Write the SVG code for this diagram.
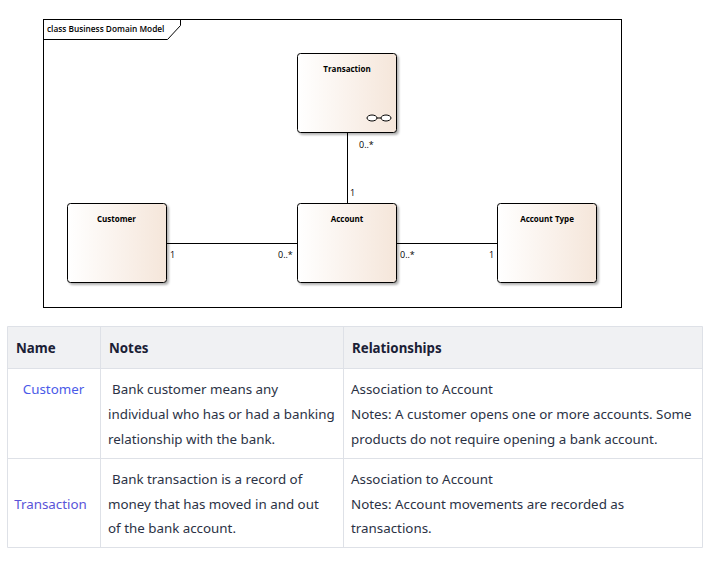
<svg xmlns="http://www.w3.org/2000/svg" width="714" height="567" viewBox="0 0 714 567">
<style>
.n{font:bold 8px "Open Sans","Liberation Sans",sans-serif;fill:#000;text-anchor:middle}
.m{font:9px "Open Sans","Liberation Sans",sans-serif;fill:#000}
.f{font:600 8.300px "Open Sans","Liberation Sans",sans-serif;fill:#000}
.box{fill:url(#g);stroke:#000;stroke-width:1}
.c{stroke:#000;stroke-width:1;fill:none}
.t{font:13.350px "Noto Sans","Open Sans",sans-serif;fill:#2b3245}
.h{font:bold 13.300px "Noto Sans","Open Sans",sans-serif;fill:#1a2035}
.l{font:13.350px "Noto Sans","Open Sans",sans-serif;fill:#4a5ae8;text-anchor:middle}
.g{stroke:#dee1e7;stroke-width:1;fill:none}
</style>
<defs>
<linearGradient id="g" x1="0" x2="1" y1="0" y2="0"><stop offset="0" stop-color="#fff"/><stop offset="1" stop-color="#f5e6da"/></linearGradient>
<filter id="s" x="-10%" y="-10%" width="125%" height="125%"><feDropShadow dx="2" dy="2" stdDeviation="1" flood-color="#000" flood-opacity=".3"/></filter>
</defs>
<rect width="714" height="567" fill="#fff"/>
<g id="frame">
<rect class="c" x="43.5" y="19.5" width="578" height="288"/>
<path class="c" d="M43.5 39.5H167.5L180.5 25.5V19.5"/>
<text x="47" y="32" class="f">class Business Domain Model</text>
</g>
<g id="connectors">
<path class="c" d="M347.5 133V203"/>
<path class="c" d="M167 243.5H297"/>
<path class="c" d="M397 243.5H497"/>
<text class="m" x="359" y="148">0..*</text>
<text class="m" x="350" y="196">1</text>
<text class="m" x="170" y="258">1</text>
<text class="m" x="278" y="258">0..*</text>
<text class="m" x="400" y="258">0..*</text>
<text class="m" x="489" y="258">1</text>
</g>
<g id="transaction">
<rect class="box" filter="url(#s)" x="297.5" y="53.5" width="99" height="79" rx="3"/>
<text class="n" x="347" y="72">Transaction</text>
<ellipse cx="372" cy="118" rx="5" ry="3" fill="#fff" stroke="#000"/>
<ellipse cx="386" cy="118" rx="5" ry="3" fill="#fff" stroke="#000"/>
<path class="c" d="M377 118H381"/>
</g>
<g id="customer">
<rect class="box" filter="url(#s)" x="67.5" y="203.500" width="99" height="79" rx="3"/>
<text class="n" x="116.500" y="222">Customer</text>
</g>
<g id="account">
<rect class="box" filter="url(#s)" x="297.5" y="203.500" width="99" height="79" rx="3"/>
<text class="n" x="347" y="222">Account</text>
</g>
<g id="account-type">
<rect class="box" filter="url(#s)" x="497.5" y="203.500" width="99" height="79" rx="3"/>
<text class="n" x="547" y="222">Account Type</text>
</g>
<g id="table">
<rect x="7.5" y="326.5" width="695" height="42" fill="#f0f1f3"/>
<path class="g" d="M7.500 326.500H702.500V547.500H7.500ZM7.500 368.500H702.500M7.500 458.500H702.500M100.500 326.500V547.500M343.500 326.500V547.500"/>
<text class="h" x="16" y="353">Name</text>
<text class="h" x="109" y="353">Notes</text>
<text class="h" x="352" y="353">Relationships</text>
<text class="l" x="53.500" y="394">Customer</text>
<text class="t" x="112" y="394">Bank customer means any</text>
<text class="t" x="108" y="419">individual who has or had a banking</text>
<text class="t" x="108" y="444">relationship with the bank.</text>
<text class="t" x="351" y="394">Association to Account</text>
<text class="t" x="351" y="419">Notes: A customer opens one or more accounts. Some</text>
<text class="t" x="351" y="444">products do not require opening a bank account.</text>
<text class="l" x="50.500" y="509" style="fill:#5a54d8">Transaction</text>
<text class="t" x="112" y="484">Bank transaction is a record of</text>
<text class="t" x="108" y="509">money that has moved in and out</text>
<text class="t" x="108" y="533">of the bank account.</text>
<text class="t" x="351" y="484">Association to Account</text>
<text class="t" x="351" y="509">Notes: Account movements are recorded as</text>
<text class="t" x="351" y="533">transactions.</text>
</g>
</svg>
